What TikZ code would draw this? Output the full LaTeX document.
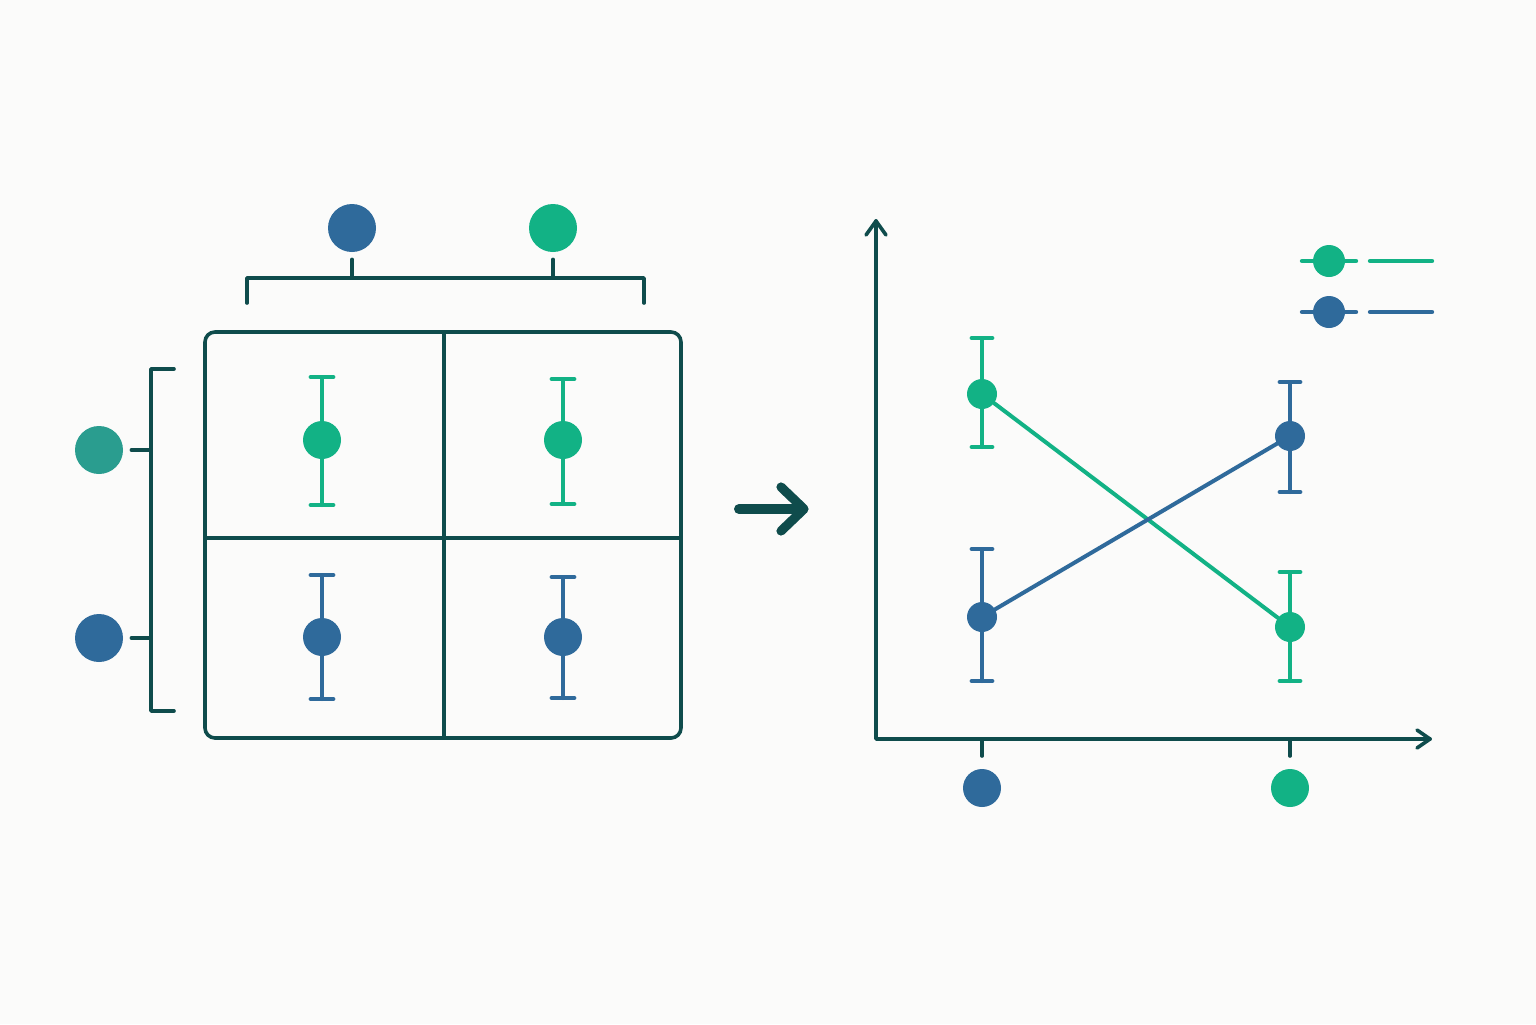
\documentclass[tikz,border=0pt]{standalone}
\usetikzlibrary{calc}
\definecolor{bgc}{HTML}{FBFBFA}
\definecolor{grn}{HTML}{12B285}
\definecolor{blu}{HTML}{2F6A9B}
\definecolor{tealc}{HTML}{2A9D8F}
\definecolor{dk}{HTML}{0F4C4C}
\tikzset{
  dot/.style={circle, inner sep=0pt, minimum size=#1, draw=none},
  frame/.style={draw=dk, line width=1.8pt, line cap=round, line join=round},
  ebar/.style={line width=2pt, line cap=round},
  pline/.style={line width=2pt, line cap=round},
}
\begin{document}
\begin{tikzpicture}[x=0.5pt,y=-0.5pt]
\fill[bgc] (0,0) rectangle (1536,1024);
\useasboundingbox (0,0) rectangle (1536,1024);

% ---------- left: 2x2 grid ----------
\node[draw=dk, line width=1.8pt, rounded corners=5pt, minimum width=238pt, minimum height=203pt, inner sep=0pt] (grid) at (443,535) {};
\draw[frame] (444,332) -- (444,738);
\draw[frame] (205,538) -- (681,538);

% top factor
\node[dot=24pt, fill=blu] (topB) at (352,228) {};
\node[dot=24pt, fill=grn] (topG) at (553,228) {};
\draw[frame] (247,303) -- (247,278) -- (644,278) -- (644,303);
\draw[frame] ([yshift=-3.5pt]topB.south) -- (topB |- 0,278);
\draw[frame] ([yshift=-3.5pt]topG.south) -- (topG |- 0,278);

% left factor
\node[dot=24pt, fill=tealc] (leftT) at (99,450) {};
\node[dot=24pt, fill=blu] (leftB) at (99,638) {};
\draw[frame] (174,369) -- (151,369) -- (151,711) -- (174,711);
\draw[frame] ([xshift=4pt]leftT.east) -- (151,450);
\draw[frame] ([xshift=4pt]leftB.east) -- (151,638);

% cell error bars
\foreach \n/\c/\x/\yt/\yc/\yb in {
  c1/grn/322/377/440/505,
  c2/grn/563/379/440/504,
  c3/blu/322/575/637/699,
  c4/blu/563/577/637/698}{
  \coordinate (\n t) at (\x,\yt);
  \coordinate (\n b) at (\x,\yb);
  \node[dot=19pt, fill=\c] (\n) at (\x,\yc) {};
  \draw[ebar, draw=\c] (\n t) -- (\n.north);
  \draw[ebar, draw=\c] (\n.south) -- (\n b);
  \draw[ebar, draw=\c, line width=2.4pt] ([xshift=-5.5pt]\n t) -- ([xshift=5.5pt]\n t);
  \draw[ebar, draw=\c, line width=2.4pt] ([xshift=-5.5pt]\n b) -- ([xshift=5.5pt]\n b);
}

% ---------- middle arrow ----------
\coordinate (arrL) at (739,509);
\coordinate (arrR) at (804,509);
\draw[dk, line width=5pt, line cap=round] (arrL) -- ([xshift=-2pt]arrR);
\draw[dk, line width=4.6pt, line cap=round, line join=round] (781,487) -- (arrR) -- (781,531);

% ---------- right: interaction plot ----------
\coordinate (org) at (876,739);
\coordinate (ytop) at (876,221);
\coordinate (xend) at (1430,739);
\draw[frame] (ytop) -- (org) -- (xend);
\draw[frame] (866,235) -- (ytop) -- (886,235);
\draw[frame] (1417,730) -- (xend) -- (1417,748);

% x ticks and level markers
\node[dot=19pt, fill=blu] (xB) at (982,788) {};
\node[dot=19pt, fill=grn] (xG) at (1290,788) {};
\draw[frame] (982,739) -- (982,756);
\draw[frame] (1290,739) -- (1290,756);

% plot error bars
\foreach \n/\c/\x/\yt/\yc/\yb in {
  gL/grn/982/338/394/447,
  bL/blu/982/549/617/681,
  bR/blu/1290/382/436/492,
  gR/grn/1290/572/627/681}{
  \coordinate (\n t) at (\x,\yt);
  \coordinate (\n b) at (\x,\yb);
  \node[dot=15pt, fill=\c] (\n) at (\x,\yc) {};
  \draw[ebar, draw=\c] (\n t) -- (\n.north);
  \draw[ebar, draw=\c] (\n.south) -- (\n b);
  \draw[ebar, draw=\c, line width=2.4pt] ([xshift=-5pt]\n t) -- ([xshift=5pt]\n t);
  \draw[ebar, draw=\c, line width=2.4pt] ([xshift=-5pt]\n b) -- ([xshift=5pt]\n b);
}
\draw[pline, grn] (gL) -- (gR);
\draw[pline, blu] (bL) -- (bR);

% legend
\node[dot=16pt, fill=grn] (lgG) at (1329,261) {};
\node[dot=16pt, fill=blu] (lgB) at (1329,312) {};
\draw[pline, grn, line width=2.2pt] (1302,261) -- (lgG.west);
\draw[pline, grn, line width=2.2pt] (lgG.east) -- (1356,261);
\draw[pline, grn, line width=2.2pt] (1370,261) -- (1432,261);
\draw[pline, blu, line width=2.2pt] (1302,312) -- (lgB.west);
\draw[pline, blu, line width=2.2pt] (lgB.east) -- (1356,312);
\draw[pline, blu, line width=2.2pt] (1370,312) -- (1432,312);
\end{tikzpicture}
\end{document}
